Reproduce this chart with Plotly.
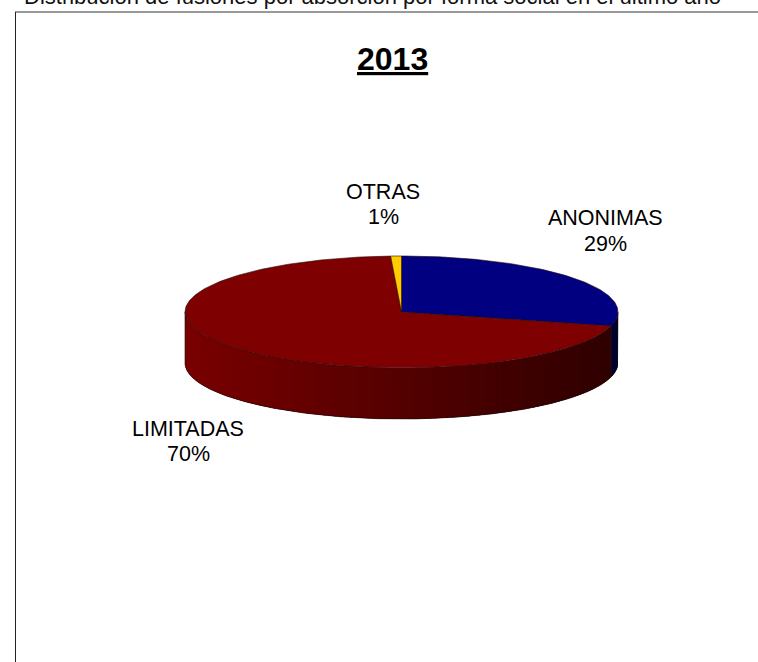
import math
import numpy as np
import plotly.graph_objects as go

# Data
categories = ["ANONIMAS", "LIMITADAS", "OTRAS"]
values = [29.0, 70.2, 0.8]
top_colors = ["#000080", "#7f0000", "#ffcc00"]
side_rgb = [(0, 0, 128), (127, 0, 0), (255, 204, 0)]
year = "2013"
page_heading = "Distribución de fusiones por absorción por forma social en el último año"

# Geometry of the drawn pie (pixels of the page)
CX, CY, RX, RY, DEPTH = 401.5, 312, 216.5, 56, 51
W, H = 758, 662


def pt(deg, dy=0.0):
    a = math.radians(deg)
    return CX + RX * math.sin(a), CY - RY * math.cos(a) + dy


def shade(deg):
    x = math.sin(math.radians(deg))  # -1 left .. 1 right
    return 0.96 - 0.30 * (x + 1)


fig = go.Figure()
total = sum(values)
start = 0.0
spans = []
for v in values:
    end = start + v / total * 360
    spans.append((start, end))
    start = end

# side wall
for (a0, a1), rgb in zip(spans, side_rgb):
    lo, hi = max(a0, 90), min(a1, 270)
    if hi <= lo:
        continue
    n = max(1, int((hi - lo) / 1.5))
    edges = np.linspace(lo, hi, n + 1)
    for e0, e1 in zip(edges[:-1], edges[1:]):
        s = shade((e0 + e1) / 2)
        col = "rgb(%d,%d,%d)" % tuple(int(c * s) for c in rgb)
        e2 = min(hi, e1 + 2)
        arc = np.linspace(e0, e2, 5)
        p = [pt(a) for a in arc] + [pt(a, DEPTH) for a in arc[::-1]] + [pt(e0)]
        fig.add_trace(go.Scatter(x=[q[0] for q in p], y=[q[1] for q in p], mode="lines",
                                 fill="toself", fillcolor=col, line=dict(width=0),
                                 hoverinfo="skip", showlegend=False))

# side outline
angles = np.linspace(90, 270, 181)
ox = [pt(a, DEPTH)[0] for a in angles]
oy = [pt(a, DEPTH)[1] for a in angles]
fig.add_trace(go.Scatter(x=[pt(90)[0]] + ox + [pt(270)[0]], y=[pt(90)[1]] + oy + [pt(270)[1]],
                         mode="lines", line=dict(color="#1a0808", width=0.6),
                         hoverinfo="skip", showlegend=False))

# top faces
for (a0, a1), col, name in zip(spans, top_colors, categories):
    angs = np.linspace(a0, a1, max(3, int(a1 - a0) + 2))
    xs = [CX] + [pt(a)[0] for a in angs] + [CX]
    ys = [CY] + [pt(a)[1] for a in angs] + [CY]
    fig.add_trace(go.Scatter(x=xs, y=ys, mode="lines", fill="toself", fillcolor=col,
                             line=dict(color="#200808", width=0.6), name=name,
                             hoverinfo="skip", showlegend=False))

label_pos = {"ANONIMAS": (605, 218, 244), "LIMITADAS": (188, 429, 454), "OTRAS": (383, 192, 217)}
for c, v in zip(categories, values):
    x, y1, y2 = label_pos[c]
    for txt, y in ((c, y1), (f"{round(v / total * 100)}%", y2)):
        fig.add_annotation(x=x, y=y, xref="x", yref="y", showarrow=False, text=txt,
                           font=dict(family="Liberation Sans", size=21.5, color="#000000"))

fig.add_annotation(x=392, y=59, xref="x", yref="y", showarrow=False,
                   text=f"<b><u>{year}</u></b>",
                   font=dict(family="Liberation Sans", size=32, color="#000000"))
fig.add_annotation(x=372.5, y=0, yshift=4, xref="x", yref="y", showarrow=False, text=page_heading,
                   font=dict(family="Liberation Sans", size=22, color="#111111"))

# frame
fig.add_shape(type="line", xref="x", yref="y", x0=15.5, x1=15.5, y0=12, y1=H,
              line=dict(color="#222222", width=1))
fig.add_shape(type="line", xref="x", yref="y", x0=15, x1=W, y0=12, y1=12,
              line=dict(color="#333333", width=1))

fig.update_layout(
    width=W, height=H, margin=dict(l=0, r=0, t=0, b=0),
    paper_bgcolor="white", plot_bgcolor="white", showlegend=False,
    xaxis=dict(range=[0, W], visible=False, fixedrange=True),
    yaxis=dict(range=[H, 0], visible=False, fixedrange=True),
)
fig.write_html("out.html", config=dict(displayModeBar=False),
               post_script="document.body.style.margin='0';document.body.style.overflow='hidden';")
